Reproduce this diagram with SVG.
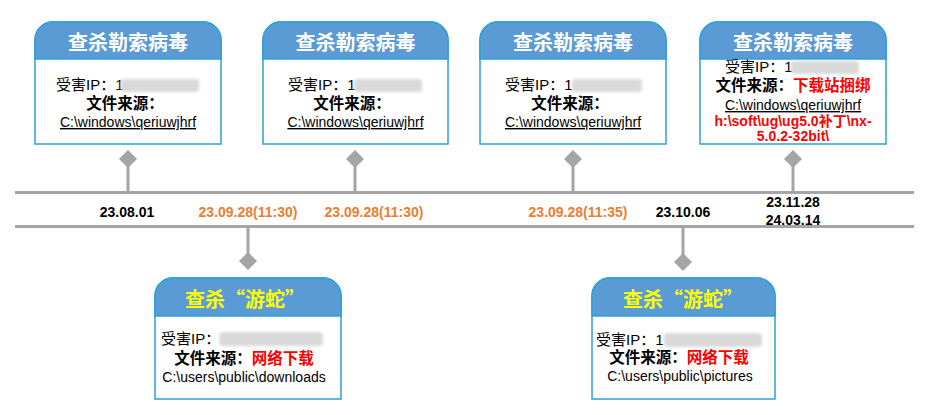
<svg xmlns="http://www.w3.org/2000/svg" width="939" height="415" viewBox="0 0 939 415">
<style>
.box{fill:#fff;stroke:#29A3DC;stroke-width:1.5}
.hdr{fill:#5B9BD5;stroke:#29A3DC;stroke-width:1.5}
.ht{font-family:"Noto Sans CJK SC",sans-serif;font-weight:bold;font-size:20px;fill:#fff;text-anchor:middle}
.hy{fill:#FFFF00}
.ip{font-family:"Liberation Sans","Noto Sans CJK SC",sans-serif;font-size:15px;fill:#000}
.src{font-family:"Liberation Sans","Noto Sans CJK SC",sans-serif;font-size:15.5px;font-weight:bold;fill:#000;text-anchor:middle}
.red{fill:#FF0000}
.path{font-family:"Liberation Sans","Noto Sans CJK SC",sans-serif;font-size:14px;fill:#000;text-anchor:middle}
.ul{text-decoration:underline}
.rp{font-family:"Liberation Sans","Noto Sans CJK SC",sans-serif;font-size:14px;font-weight:bold;fill:#FF0000;text-anchor:middle}
.date{font-family:"Liberation Sans",sans-serif;font-size:14px;font-weight:bold;fill:#000;text-anchor:middle}
.or{fill:#ED7D31}
.line{stroke:#A5A5A5;stroke-width:3;fill:none}
.stem{stroke:#A5A5A5;stroke-width:3;fill:none}
.dia{fill:#A5A5A5}
.blur{fill:#d9d9d9;filter:url(#bl)}
</style>
<defs>
<filter id="bl" x="-20%" y="-50%" width="140%" height="200%"><feGaussianBlur stdDeviation="1.6"/></filter>
</defs>

<g id="connectors">
<line class="line" x1="15" y1="192.5" x2="914" y2="192.5"/>
<line class="line" x1="15" y1="226.5" x2="914" y2="226.5"/>
<line class="stem" x1="128" y1="159" x2="128" y2="192"/>
<line class="stem" x1="355" y1="159" x2="355" y2="192"/>
<line class="stem" x1="573" y1="159" x2="573" y2="192"/>
<line class="stem" x1="793" y1="159" x2="793" y2="192"/>
<line class="stem" x1="248" y1="227" x2="248" y2="261"/>
<line class="stem" x1="683" y1="227" x2="683" y2="261"/>
<path class="dia" d="M128,150 L137,159 L128,168 L119,159 Z"/>
<path class="dia" d="M355,150 L364,159 L355,168 L346,159 Z"/>
<path class="dia" d="M573,150 L582,159 L573,168 L564,159 Z"/>
<path class="dia" d="M793,150 L802,159 L793,168 L784,159 Z"/>
<path class="dia" d="M248,252 L257,261 L248,270 L239,261 Z"/>
<path class="dia" d="M683,253 L692,262 L683,271 L674,262 Z"/>
</g>

<g id="dates">
<text class="date" x="127" y="217">23.08.01</text>
<text class="date or" x="248" y="217">23.09.28(11:30)</text>
<text class="date or" x="374" y="217">23.09.28(11:30)</text>
<text class="date or" x="578" y="217">23.09.28(11:35)</text>
<text class="date" x="683" y="217">23.10.06</text>
<text class="date" x="793" y="207">23.11.28</text>
<text class="date" x="793" y="225">24.03.14</text>
</g>

<g id="node1">
<path class="box" d="M35,144 V40 A18,18 0 0 1 53,22 H203 A18,18 0 0 1 221,40 V144 Z"/>
<path class="hdr" d="M35,59 V40 A18,18 0 0 1 53,22 H203 A18,18 0 0 1 221,40 V59 Z"/>
<text class="ht" x="128" y="50">查杀勒索病毒</text>
<text class="ip" x="56" y="90">受害IP：1</text>
<rect class="blur" x="121" y="79" width="78" height="13" rx="3"/>
<text class="src" x="125" y="109">文件来源：</text>
<text class="path ul" x="128" y="127">C:\windows\qeriuwjhrf</text>
</g>

<g id="node2">
<path class="box" d="M263,144 V40 A18,18 0 0 1 281,22 H430 A18,18 0 0 1 448,40 V144 Z"/>
<path class="hdr" d="M263,59 V40 A18,18 0 0 1 281,22 H430 A18,18 0 0 1 448,40 V59 Z"/>
<text class="ht" x="355.5" y="50">查杀勒索病毒</text>
<text class="ip" x="288" y="90">受害IP：1</text>
<rect class="blur" x="354" y="79" width="68" height="13" rx="3"/>
<text class="src" x="352" y="109">文件来源：</text>
<text class="path ul" x="355.5" y="127">C:\windows\qeriuwjhrf</text>
</g>

<g id="node3">
<path class="box" d="M480,144 V40 A18,18 0 0 1 498,22 H648 A18,18 0 0 1 666,40 V144 Z"/>
<path class="hdr" d="M480,59 V40 A18,18 0 0 1 498,22 H648 A18,18 0 0 1 666,40 V59 Z"/>
<text class="ht" x="573" y="50">查杀勒索病毒</text>
<text class="ip" x="505" y="90">受害IP：1</text>
<rect class="blur" x="572" y="79" width="70" height="13" rx="3"/>
<text class="src" x="570" y="109">文件来源：</text>
<text class="path ul" x="573" y="127">C:\windows\qeriuwjhrf</text>
</g>

<g id="node4">
<path class="box" d="M700,144 V40 A18,18 0 0 1 718,22 H868 A18,18 0 0 1 886,40 V144 Z"/>
<path class="hdr" d="M700,59 V40 A18,18 0 0 1 718,22 H868 A18,18 0 0 1 886,40 V59 Z"/>
<text class="ht" x="793" y="50">查杀勒索病毒</text>
<text class="ip" x="725" y="72">受害IP：1</text>
<rect class="blur" x="791" y="61" width="68" height="13" rx="3"/>
<text class="src" x="793" y="91">文件来源：<tspan class="red">下载站捆绑</tspan></text>
<text class="path ul" x="793" y="110">C:\windows\qeriuwjhrf</text>
<text class="rp" x="793" y="126">h:\soft\ug\ug5.0补丁\nx-</text>
<text class="rp" x="793" y="141">5.0.2-32bit\</text>
</g>

<g id="node5">
<path class="box" d="M155,399 V296 A18,18 0 0 1 173,278 H323 A18,18 0 0 1 341,296 V399 Z"/>
<path class="hdr" d="M155,316 V296 A18,18 0 0 1 173,278 H323 A18,18 0 0 1 341,296 V316 Z"/>
<text class="ht hy" x="245" y="307">查杀“游蛇”</text>
<text class="ip" x="161" y="344">受害IP：</text>
<rect class="blur" x="219" y="332" width="104" height="14" rx="4"/>
<text class="src" x="244" y="364">文件来源：<tspan class="red">网络下载</tspan></text>
<text class="path" x="244" y="382">C:\users\public\downloads</text>
</g>

<g id="node6">
<path class="box" d="M592,399 V296 A18,18 0 0 1 610,278 H757 A18,18 0 0 1 775,296 V399 Z"/>
<path class="hdr" d="M592,316 V296 A18,18 0 0 1 610,278 H757 A18,18 0 0 1 775,296 V316 Z"/>
<text class="ht hy" x="683" y="307">查杀“游蛇”</text>
<text class="ip" x="596" y="345">受害IP：1</text>
<rect class="blur" x="664" y="333" width="98" height="14" rx="4"/>
<text class="src" x="679" y="363">文件来源：<tspan class="red">网络下载</tspan></text>
<text class="path" x="680" y="381">C:\users\public\pictures</text>
</g>
</svg>
